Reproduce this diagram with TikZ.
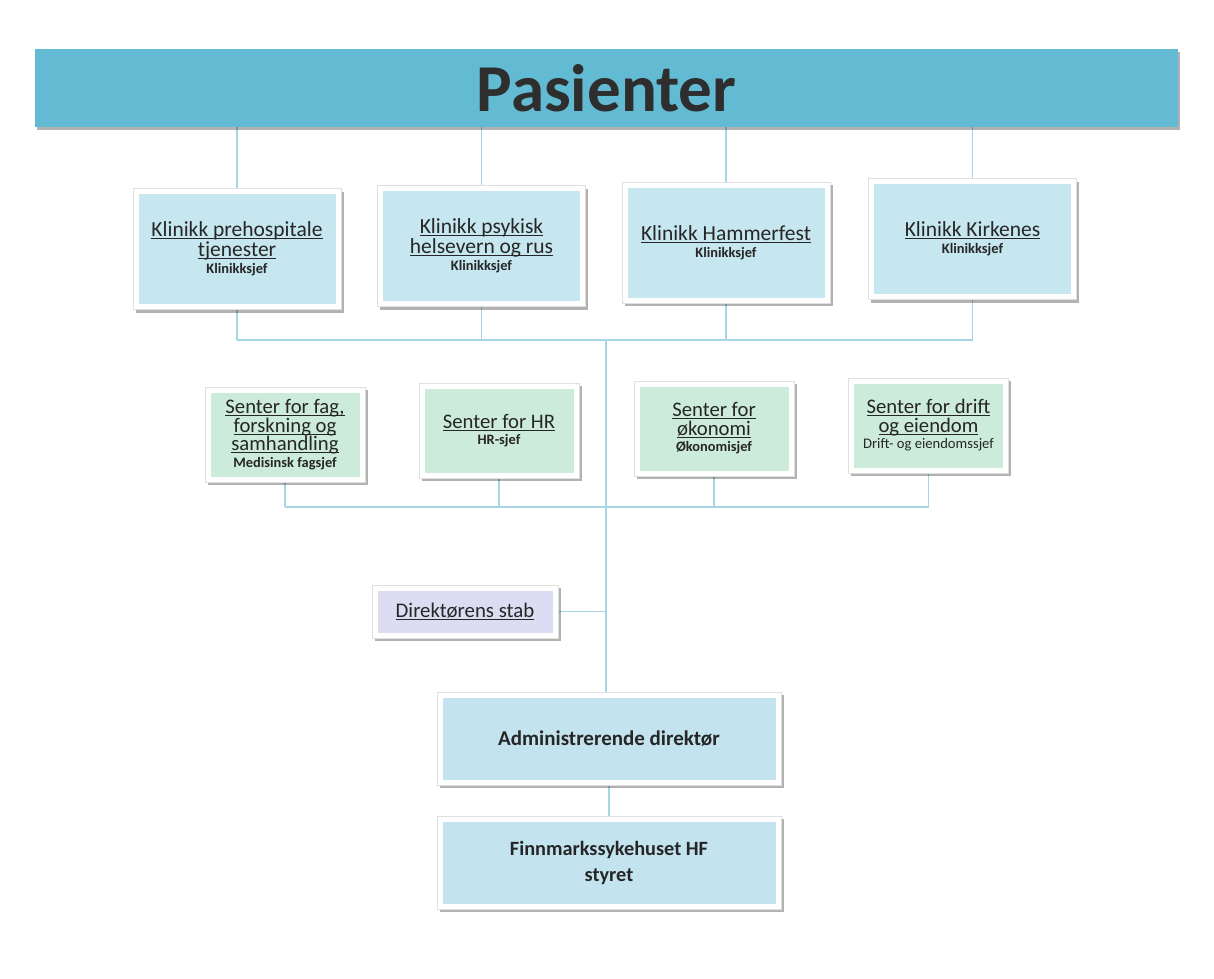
\documentclass[tikz,border=0pt]{standalone}
\usepackage{fontspec}
\setmainfont{Carlito}
\usetikzlibrary{shadows,backgrounds}
\pgfdeclarelayer{bg}
\pgfsetlayers{bg,background,main}
\definecolor{banner}{HTML}{62BBD2}
\definecolor{klinfill}{HTML}{C6E6F0}
\definecolor{senfill}{HTML}{CDEBDB}
\definecolor{stabfill}{HTML}{DCDCF2}
\definecolor{adminfill}{HTML}{C3E4EF}
\definecolor{conn}{HTML}{A4D6E5}
\definecolor{txt}{HTML}{262626}
\newcommand\myul[1]{\setbox0\hbox{#1}\rlap{\rule[-2.4pt]{\wd0}{0.9pt}}\box0}
\tikzset{
  framebox/.style={fill=white, draw=black!12, line width=0.4pt, inner sep=2pt,
    align=center, text=txt,
    drop shadow={shadow xshift=2.5pt, shadow yshift=-3pt, opacity=0.3, fill=black},
    path picture={\fill[#1] ([shift={(5.5pt,-5.5pt)}]path picture bounding box.north west)
      rectangle ([shift={(-5.5pt,5.5pt)}]path picture bounding box.south east);}},
  klinikk/.style={framebox=klinfill, minimum width=208pt, minimum height=121pt,
    font=\fontsize{21.5}{20}\selectfont},
  senter/.style={framebox=senfill, minimum width=160pt, minimum height=95pt,
    font=\fontsize{20.7}{18.5}\selectfont},
  stab/.style={framebox=stabfill, minimum width=186pt, minimum height=53pt,
    font=\fontsize{20.8}{20}\selectfont},
  leder/.style={framebox=adminfill, minimum width=344pt, minimum height=93pt,
    font=\bfseries},
  link/.style={draw=conn, line width=1.4pt},
}
\newcommand\subt[1]{{\fontsize{14.4}{14}\selectfont\bfseries #1}}
\newcommand\subr[1]{{\fontsize{14.6}{14}\selectfont #1}}
\begin{document}
\begin{tikzpicture}[x=1pt,y=-1pt]
\useasboundingbox (0,0) rectangle (1214,978);
\begin{pgfonlayer}{bg}
\fill[white] (0,0) rectangle (1214,978);
\end{pgfonlayer}

% banner
\node[fill=banner, minimum width=1143pt, minimum height=78pt, inner sep=0pt,
  drop shadow={shadow xshift=1.5pt, shadow yshift=-3pt, opacity=0.3, fill=black},
  font=\fontsize{67}{70}\selectfont\bfseries, text=black!82] (P) at (606.5,88) {Pasienter};

% clinics
\node[klinikk] (K1) at (237,249) {\myul{Klinikk prehospitale}\\\myul{tjenester}\\[-3pt]\subt{Klinikksjef}};
\node[klinikk] (K2) at (481.5,246) {\myul{Klinikk psykisk}\\\myul{helsevern og rus}\\[-3pt]\subt{Klinikksjef}};
\node[klinikk] (K3) at (726,242.5) {\myul{Klinikk Hammerfest}\\[-3pt]\subt{Klinikksjef}};
\node[klinikk] (K4) at (972.5,239) {\myul{Klinikk Kirkenes}\\[-3pt]\subt{Klinikksjef}};

% centres
\node[senter] (S1) at (285,434.5) {\myul{Senter for fag,}\\\myul{forskning og}\\\myul{samhandling}\\[-2pt]\subt{Medisinsk fagsjef}};
\node[senter] (S2) at (499,430.5) {\myul{Senter for HR}\\[-2pt]\subt{HR-sjef}};
\node[senter] (S3) at (714,428.5) {\myul{Senter for}\\\myul{økonomi}\\[-2pt]\subt{Økonomisjef}};
\node[senter] (S4) at (928.5,425.5) {\myul{Senter for drift}\\\myul{og eiendom}\\[-2pt]\subr{Drift- og eiendomssjef}};

% staff
\node[stab] (D) at (465,611.5) {\myul{Direktørens stab}};

% leaders
\node[leder, font=\fontsize{21}{26}\selectfont\bfseries] (A) at (609,738.5) {Administrerende direktør};
\node[leder, font=\fontsize{20.3}{26}\selectfont\bfseries] (F) at (609,862.5) {Finnmarkssykehuset HF\\styret};

\coordinate (busK) at (606,340);
\coordinate (busS) at (606,507);

\begin{pgfonlayer}{background}
\foreach \k in {K1,K2,K3,K4}{
  \draw[link] (\k.north) -- (\k.north |- P.south);
  \draw[link] (\k.south) -- (\k.south |- busK);
}
\draw[link] (K1.south |- busK) -- (K4.south |- busK);
\foreach \s in {S1,S2,S3,S4}{
  \draw[link] (\s.south) -- (\s.south |- busS);
}
\draw[link] (S1.south |- busS) -- (S4.south |- busS);
\draw[link] (busK) -- (A.north -| busK);
\draw[link] (D.east) -- (D.east -| busK);
\draw[link] (A.south) -- (F.north);
\end{pgfonlayer}
\end{tikzpicture}
\end{document}
